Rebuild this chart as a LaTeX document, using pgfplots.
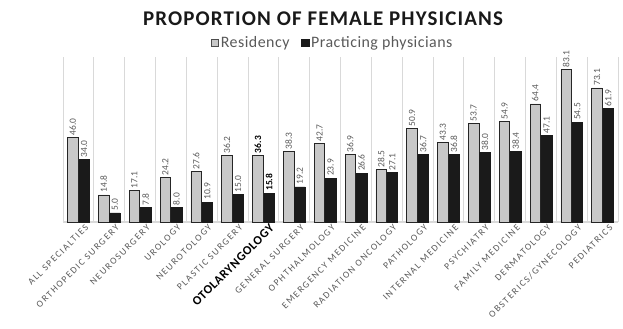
\documentclass[border=0pt]{standalone}
\usepackage{fontspec}
\setmainfont{Carlito}
\newfontfamily\tickfont[LetterSpace=16]{Carlito}
\newfontfamily\titlefont[LetterSpace=5.5]{Carlito}
\newfontfamily\legfont[LetterSpace=3]{Carlito}
\usepackage{pgfplots}
\pgfplotsset{compat=1.18}
\definecolor{resfill}{HTML}{C8C8C8}
\definecolor{pracfill}{HTML}{1A1A1A}
\definecolor{txtgray}{HTML}{595959}
\definecolor{gridgray}{HTML}{D9D9D9}
\begin{document}
\begin{tikzpicture}
\useasboundingbox (-63bp,-107bp) rectangle (560bp,222bp);
\begin{axis}[
 at={(0,0)}, anchor=south west,
 scale only axis, width=555bp, height=165bp,
 xmin=-0.5, xmax=17.5, ymin=0, ymax=90,
 axis y line=none, axis x line*=bottom,
 x axis line style={color=gridgray, line width=1.2bp, -},
 xtick={0,...,17}, major tick length=0pt,
 minor xtick={-0.5,0.5,...,17.5}, xminorgrids, minor tick length=0pt,
 minor grid style={gridgray, line width=0.8bp},
 xticklabels={ALL SPECIALTIES, ORTHOPEDIC SURGERY, NEUROSURGERY, UROLOGY, NEUROTOLOGY, PLASTIC SURGERY, {\color{black}\titlefont\bfseries\fontsize{12.5}{13}\selectfont OTOLARYNGOLOGY}, GENERAL SURGERY, OPHTHALMOLOGY, EMERGENCY MEDICINE, RADIATION ONCOLOGY, PATHOLOGY, INTERNAL MEDICINE, PSYCHIATRY, FAMILY MEDICINE, DERMATOLOGY, OBSTERICS/GYNECOLOGY, PEDIATRICS},
 xticklabel style={font=\tickfont\fontsize{9.5}{10}\selectfont, text=txtgray, rotate=45, anchor=east, inner sep=0pt, xshift=3bp, yshift=-9bp},
 ybar=0.7bp, bar width=10.5bp,
 nodes near coords, point meta=explicit symbolic,
 every node near coord/.append style={rotate=90, anchor=west, font=\fontsize{9.5}{10}\selectfont, text=txtgray, inner sep=2bp},
 clip=false,
 legend style={at={(axis description cs:0.486,1.085)}, anchor=center, draw=none, fill=none, legend columns=2, font=\legfont\fontsize{16}{18}\selectfont, text=txtgray, /tikz/every even column/.append style={column sep=10bp}, inner sep=0pt},
 legend cell align=left,
]
\addplot[fill=resfill, draw=black!85, line width=0.7bp,
 legend image code/.code={\draw[fill=resfill, draw=black!70, line width=0.6bp] (0bp,-3.6bp) rectangle (7.2bp,3.6bp);}]
 coordinates {(0,46.0)[46.0] (1,14.8)[14.8] (2,17.1)[17.1] (3,24.2)[24.2] (4,27.6)[27.6] (5,36.2)[36.2] (6,36.3)[\textcolor{black}{\bfseries 36.3}] (7,38.3)[38.3] (8,42.7)[42.7] (9,36.9)[36.9] (10,28.5)[28.5] (11,50.9)[50.9] (12,43.3)[43.3] (13,53.7)[53.7] (14,54.9)[54.9] (15,64.4)[64.4] (16,83.1)[83.1] (17,73.1)[73.1]};
\addlegendentry{Residency}
\addplot[fill=pracfill, draw=pracfill, line width=0.5bp,
 legend image code/.code={\draw[fill=pracfill, draw=pracfill] (0bp,-3.6bp) rectangle (7.2bp,3.6bp);}]
 coordinates {(0,34.0)[34.0] (1,5.0)[5.0] (2,7.8)[7.8] (3,8.0)[8.0] (4,10.9)[10.9] (5,15.0)[15.0] (6,15.8)[\textcolor{black}{\bfseries 15.8}] (7,19.2)[19.2] (8,23.9)[23.9] (9,26.6)[26.6] (10,27.1)[27.1] (11,36.7)[36.7] (12,36.8)[36.8] (13,38.0)[38.0] (14,38.4)[38.4] (15,47.1)[47.1] (16,54.5)[54.5] (17,61.9)[61.9]};
\addlegendentry{Practicing physicians}
\end{axis}
\node[font=\titlefont\bfseries\fontsize{21}{24}\selectfont, text=black!90] at (260bp,203.5bp) {PROPORTION OF FEMALE PHYSICIANS};
\end{tikzpicture}
\end{document}
